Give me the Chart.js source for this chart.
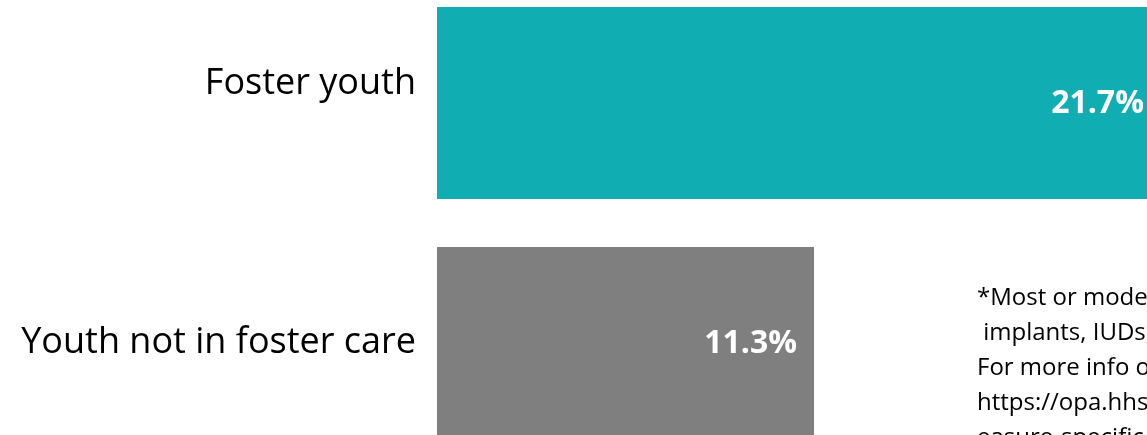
<!DOCTYPE html>
<html>
<head>
<meta charset="utf-8">
<script src="https://cdn.jsdelivr.net/npm/chart.js@4/dist/chart.umd.min.js"></script>
<style>
  html, body { margin: 0; padding: 0; background: #fff; }
  #wrap { position: relative; width: 1147px; height: 435px; overflow: hidden; }
  #plot { position: absolute; left: 0; top: -17px; width: 1171px; height: 480px; }
  .note {
    position: absolute; left: 977px; top: 278px;
    font-family: "Open Sans", sans-serif; font-size: 24px; line-height: 35px;
    color: #000; white-space: pre;
  }
</style>
</head>
<body>
<div id="wrap">
  <div id="plot"><canvas id="chart"></canvas></div>
  <div class="note">*Most or moderately effective methods: sterilization,
 implants, IUDs, injectables, pills, patch or ring.
For more info on the measure see
https://opa.hhs.gov/evaluation-research/title-x-services-research/m
easure-specific-information</div>
</div>
<script>
const categories = ["Foster youth", "Youth not in foster care"];
const values = [21.7, 11.3];
const barColors = ["#10aeb2", "#7f7f7f"];

// white percentage text just inside the end of each bar
const valueLabels = {
  id: "valueLabels",
  afterDatasetsDraw: function (chart) {
    var ctx = chart.ctx;
    var meta = chart.getDatasetMeta(0);
    ctx.save();
    ctx.font = "bold 32px 'Open Sans'";
    ctx.fillStyle = "#ffffff";
    ctx.textAlign = "right";
    ctx.textBaseline = "middle";
    meta.data.forEach(function (bar, i) {
      ctx.fillText(values[i].toFixed(1) + "%", bar.x - 17, bar.y + 1);
    });
    ctx.restore();
  }
};

var ctx = document.getElementById("chart").getContext("2d");
var myChart = new Chart(ctx, {
  type: "bar",
  data: {
    labels: categories,
    datasets: [
      {
        data: values,
        backgroundColor: barColors,
        borderWidth: 0,
        barPercentage: 0.8,
        categoryPercentage: 1.0,
      },
    ],
  },
  options: {
    indexAxis: "y",
    responsive: true,
    maintainAspectRatio: false,
    animation: false,
    layout: { padding: 0 },
    plugins: {
      legend: { display: false },
      tooltip: { enabled: false },
    },
    scales: {
      x: {
        display: false,
        min: 0,
        max: 22,
      },
      y: {
        grid: { display: false, drawTicks: false },
        border: { display: false },
        afterFit: function (scale) {
          scale.width = 437;
          // bars fill the full height, no room kept for label overhang
          scale.paddingTop = 0;
          scale.paddingBottom = 0;
        },
        ticks: {
          padding: 21,
          color: "#000000",
          font: { family: "'Open Sans'", size: 36, lineHeight: 1.05 },
          callback: function (value, index) {
            var label = this.getLabelForValue(value);
            // first label sits a little higher than its bar
            return index === 0 ? [label, ""] : label;
          },
        },
      },
    },
  },
  plugins: [valueLabels],
});
</script>
</body>
</html>
